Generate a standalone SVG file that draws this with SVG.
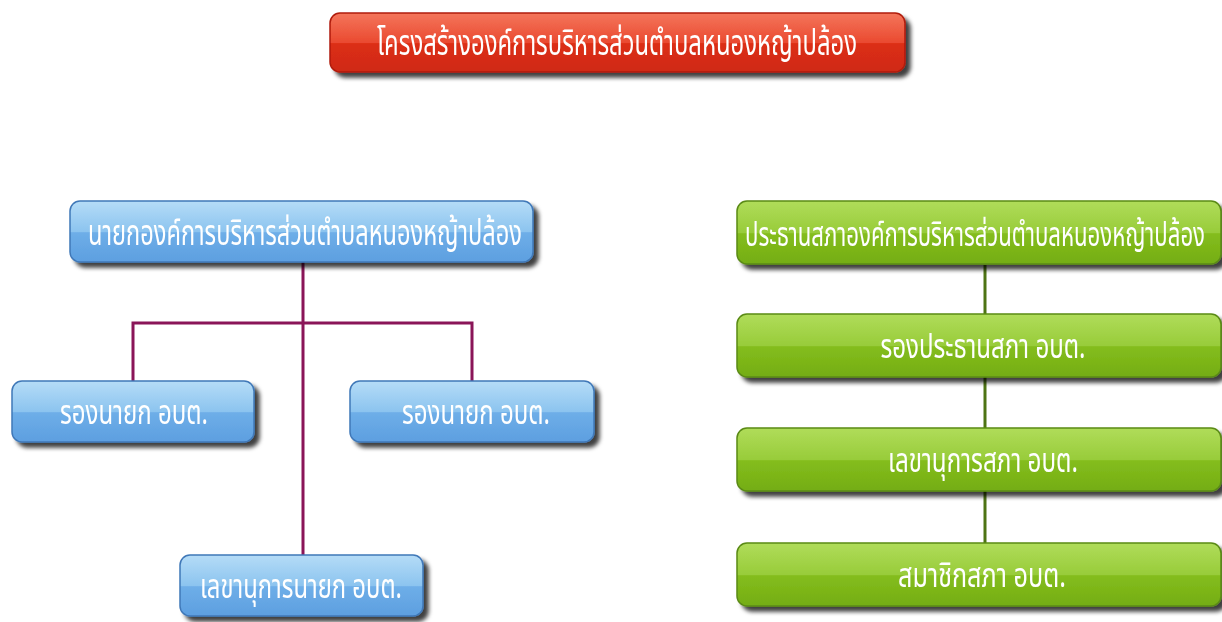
<svg xmlns="http://www.w3.org/2000/svg" width="1222" height="622" viewBox="0 0 1222 622">
<style>
.t{fill:#fff;font-family:"Noto Sans Thai","Noto Sans","DejaVu Sans",sans-serif;text-anchor:middle;}
.big{font-size:36px}
.sm{font-size:34px}
.edgeP{stroke:#8a1558;stroke-width:3;fill:none}
.edgeG{stroke:#4e7414;stroke-width:3;fill:none}
.blue{fill:url(#gB);stroke:#3f78b8;stroke-width:1.5}
.green{fill:url(#gG);stroke:#5a8a15;stroke-width:1.5}
.red{fill:url(#gR);stroke:#b01a0a;stroke-width:1.5}
</style>
<defs>
<filter id="sh" x="-10%" y="-20%" width="125%" height="160%">
<feDropShadow dx="5" dy="5" stdDeviation="2" flood-color="#000" flood-opacity="0.75"/>
</filter>
<linearGradient id="gB" x1="0" y1="0" x2="0" y2="1">
<stop offset="0" stop-color="#b5dcf7"/><stop offset="0.5" stop-color="#8cc4ef"/><stop offset="0.52" stop-color="#6eaee8"/><stop offset="1" stop-color="#5d9fe0"/>
</linearGradient>
<linearGradient id="gG" x1="0" y1="0" x2="0" y2="1">
<stop offset="0" stop-color="#b0dc5a"/><stop offset="0.5" stop-color="#98cc3a"/><stop offset="0.52" stop-color="#84bd1e"/><stop offset="1" stop-color="#74ad12"/>
</linearGradient>
<linearGradient id="gR" x1="0" y1="0" x2="0" y2="1">
<stop offset="0" stop-color="#f4765c"/><stop offset="0.5" stop-color="#ea4a30"/><stop offset="0.52" stop-color="#dc2e14"/><stop offset="1" stop-color="#cf2a14"/>
</linearGradient>
</defs>
<rect width="1222" height="622" fill="#fff"/>
<g id="connectors">
<path class="edgeP" d="M303 262V556M133 381V323H472V381"/>
<path class="edgeG" d="M985 265V314M985 377V428M985 491V543"/>
</g>
<g id="title" filter="url(#sh)">
<rect class="red" x="330" y="13" width="575" height="59" rx="10"/>
<text class="t big" x="617" y="55" textLength="480" lengthAdjust="spacingAndGlyphs">โครงสร้างองค์การบริหารส่วนตำบลหนองหญ้าปล้อง</text>
</g>
<g id="nayok" filter="url(#sh)">
<rect class="blue" x="70" y="201" width="463" height="61" rx="10"/>
<text class="t big" x="305" y="245" textLength="434" lengthAdjust="spacingAndGlyphs">นายกองค์การบริหารส่วนตำบลหนองหญ้าปล้อง</text>
</g>
<g id="rongnayok1" filter="url(#sh)">
<rect class="blue" x="12" y="381" width="242" height="61" rx="10"/>
<text class="t sm" x="134" y="424" textLength="148" lengthAdjust="spacingAndGlyphs">รองนายก อบต.</text>
</g>
<g id="rongnayok2" filter="url(#sh)">
<rect class="blue" x="350" y="381" width="244" height="61" rx="10"/>
<text class="t sm" x="476" y="424" textLength="148" lengthAdjust="spacingAndGlyphs">รองนายก อบต.</text>
</g>
<g id="lekhanayok" filter="url(#sh)">
<rect class="blue" x="180" y="555" width="243" height="61" rx="10"/>
<text class="t sm" x="301" y="598" textLength="202" lengthAdjust="spacingAndGlyphs">เลขานุการนายก อบต.</text>
</g>
<g id="prathan" filter="url(#sh)">
<rect class="green" x="737" y="201" width="484" height="63" rx="10"/>
<text class="t" style="font-size:33px" x="975" y="246" textLength="460" lengthAdjust="spacingAndGlyphs">ประธานสภาองค์การบริหารส่วนตำบลหนองหญ้าปล้อง</text>
</g>
<g id="rongprathan" filter="url(#sh)">
<rect class="green" x="737" y="314" width="484" height="63" rx="10"/>
<text class="t sm" x="983" y="358" textLength="205" lengthAdjust="spacingAndGlyphs">รองประธานสภา อบต.</text>
</g>
<g id="lekhasapha" filter="url(#sh)">
<rect class="green" x="737" y="428" width="484" height="63" rx="10"/>
<text class="t sm" x="983" y="472" textLength="190" lengthAdjust="spacingAndGlyphs">เลขานุการสภา อบต.</text>
</g>
<g id="samachik" filter="url(#sh)">
<rect class="green" x="737" y="543" width="484" height="63" rx="10"/>
<text class="t sm" x="982" y="587" textLength="168" lengthAdjust="spacingAndGlyphs">สมาชิกสภา อบต.</text>
</g>
</svg>
